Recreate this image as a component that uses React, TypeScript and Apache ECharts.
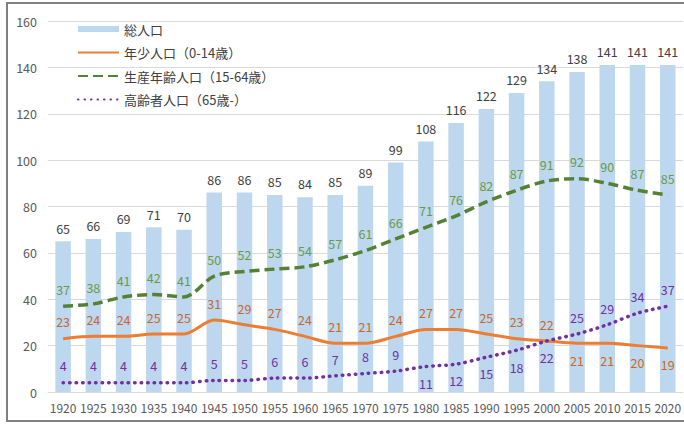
import React, { useEffect, useRef } from "react";
import * as echarts from "echarts";

const years = ["1920","1925","1930","1935","1940","1945","1950","1955","1960","1965","1970","1975","1980","1985","1990","1995","2000","2005","2010","2015","2020"];
const total = [65,66,69,71,70,86,86,85,84,85,89,99,108,116,122,129,134,138,141,141,141];
const young = [23,24,24,25,25,31,29,27,24,21,21,24,27,27,25,23,22,21,21,20,19];
const working = [37,38,41,42,41,50,52,53,54,57,61,66,71,76,82,87,91,92,90,87,85];
const elderly = [4,4,4,4,4,5,5,6,6,7,8,9,11,12,15,18,22,25,29,34,37];
const yTicks = [0, 160, 20];
// years whose label sits below the line
const youngBelow = ["2005","2010","2015","2020"];
const elderlyBelow = ["1980","1985","1990","1995","2000"];

const NUM_FONT = "'Noto Sans CJK JP', 'Noto Sans', sans-serif";
const JP_FONT = "'Noto Sans CJK JP', sans-serif";

function withLabelPos(values: number[], below: string[]) {
  return values.map((v, i) =>
    below.includes(years[i]) ? { value: v, label: { position: "bottom" } } : v
  );
}

export default function App() {
  const ref = useRef<HTMLDivElement>(null);
  useEffect(() => {
    if (!ref.current) return;
    const chart = echarts.init(ref.current, null, { renderer: "svg" });
    const lineLabel = (color: string) => ({
      show: true,
      position: "top",
      distance: 10,
      color,
      fontSize: 12.5,
      fontFamily: NUM_FONT,
    });
    const clear = "rgba(0,0,0,0)";
    chart.setOption({
      animation: false,
      backgroundColor: "#ffffff",
      grid: { left: 48, right: -1, top: 21, bottom: 34 },
      legend: {
        orient: "vertical",
        left: 77,
        top: 22,
        padding: 0,
        itemWidth: 41,
        itemHeight: 6,
        itemGap: 9.5,
        textStyle: { color: "#404040", fontSize: 13, fontFamily: JP_FONT, lineHeight: 14 },
        data: [
          { name: "総人口", icon: "rect" },
          { name: "年少人口（0-14歳）" },
          { name: "生産年齢人口（15-64歳）" },
          { name: "高齢者人口（65歳-）" },
        ],
      },
      xAxis: {
        type: "category",
        data: years,
        axisTick: { show: false },
        axisLine: { lineStyle: { color: "#d9d9d9", width: 1 } },
        axisLabel: { color: "#595959", fontSize: 12, fontFamily: NUM_FONT, margin: 9, interval: 0 },
      },
      yAxis: {
        type: "value",
        min: yTicks[0],
        max: yTicks[1],
        interval: yTicks[2],
        axisLine: { show: false },
        axisTick: { show: false },
        splitLine: { lineStyle: { color: "#d9d9d9", width: 1 } },
        axisLabel: { color: "#595959", fontSize: 12.5, fontFamily: NUM_FONT, margin: 11 },
      },
      graphic: [
        {
          type: "rect",
          silent: true,
          z: 100,
          shape: { x: 7, y: 3, width: 700, height: 418 },
          style: { fill: "none", stroke: "#808080", lineWidth: 2 },
        },
      ],
      series: [
        {
          name: "総人口",
          type: "bar",
          data: total,
          barWidth: 15.5,
          itemStyle: { color: "#BDD7EE" },
          label: {
            show: true,
            position: "top",
            distance: 7,
            color: "#404040",
            fontSize: 12.5,
            fontFamily: NUM_FONT,
          },
        },
        {
          name: "年少人口（0-14歳）",
          type: "line",
          data: withLabelPos(young, youngBelow),
          smooth: 0.3,
          symbol: "circle",
          symbolSize: 1,
          showSymbol: true,
          lineStyle: { color: "#ED7D31", width: 3 },
          itemStyle: { color: clear, borderWidth: 0 },
          label: lineLabel("#C9672A"),
          z: 3,
        },
        {
          name: "生産年齢人口（15-64歳）",
          type: "line",
          data: working,
          smooth: 0.3,
          symbol: "circle",
          symbolSize: 1,
          showSymbol: true,
          lineStyle: { color: "#548235", width: 3.5, type: [10, 5] },
          itemStyle: { color: clear, borderWidth: 0 },
          label: lineLabel("#6A9A46"),
          z: 3,
        },
        {
          name: "高齢者人口（65歳-）",
          type: "line",
          data: withLabelPos(elderly, elderlyBelow),
          smooth: 0.3,
          symbol: "circle",
          symbolSize: 1,
          showSymbol: true,
          lineStyle: { color: "#7030A0", width: 3.5, type: [0.5, 6], cap: "round" },
          itemStyle: { color: clear, borderWidth: 0 },
          label: lineLabel("#7030A0"),
          z: 3,
        },
      ],
    });
    return () => chart.dispose();
  }, []);
  return (
    <div
      ref={ref}
      style={{ position: "fixed", left: 0, top: 0, width: 684, height: 426 }}
    />
  );
}
